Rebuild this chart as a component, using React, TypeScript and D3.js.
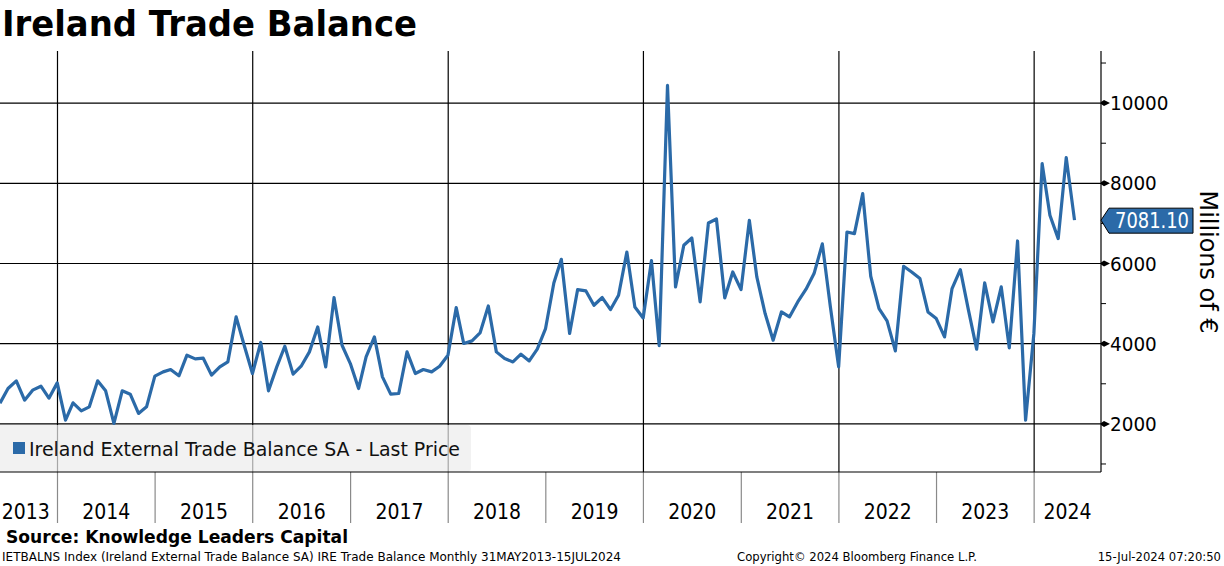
import * as d3 from 'd3'

// monthly values, millions of EUR (month-end points)
const v2013 = [2517, 2883, 3073, 2592, 2841, 2940, 2641, 3023] // May-Dec
const v2014 = [2093, 2525, 2326, 2425, 3073, 2824, 2011, 2824, 2741, 2260, 2425, 3190]
const v2015 = [3297, 3356, 3198, 3713, 3621, 3638, 3215, 3422, 3546, 4668, 3962, 3256]
const v2016 = [4030, 2824, 3422, 3937, 3240, 3439, 3796, 4418, 3422, 5150, 3962, 3505]
const v2017 = [2883, 3671, 4169, 3173, 2741, 2758, 3796, 3256, 3356, 3297, 3439, 3713]
const v2018 = [4900, 4005, 4070, 4269, 4942, 3796, 3630, 3546, 3738, 3571, 3863, 4378]
const v2019 = [5515, 6105, 4254, 5350, 5316, 4959, 5151, 4851, 5208, 6287, 4917, 4643]
const v2020 = [6070, 3950, 10441, 5416, 6454, 6636, 5042, 7010, 7110, 5142, 5789, 5350]
const v2021 = [7077, 5665, 4752, 4087, 4792, 4668, 5042, 5358, 5749, 6490, 4920, 3422]
const v2022 = [6786, 6746, 7743, 5682, 4876, 4568, 3820, 5931, 5789, 5624, 4792, 4627]
const v2023 = [4169, 5375, 5848, 4851, 3863, 5515, 4543, 5416, 3896, 6562, 2093, 4250]
const v2024 = [8490, 7202, 6621, 8640, 7081.1] // Jan-May

const series = [
  { year: 2013, start: 4, values: v2013 },
  { year: 2014, start: 0, values: v2014 },
  { year: 2015, start: 0, values: v2015 },
  { year: 2016, start: 0, values: v2016 },
  { year: 2017, start: 0, values: v2017 },
  { year: 2018, start: 0, values: v2018 },
  { year: 2019, start: 0, values: v2019 },
  { year: 2020, start: 0, values: v2020 },
  { year: 2021, start: 0, values: v2021 },
  { year: 2022, start: 0, values: v2022 },
  { year: 2023, start: 0, values: v2023 },
  { year: 2024, start: 0, values: v2024 },
]

const yearLabels = ['2013', '2014', '2015', '2016', '2017', '2018', '2019', '2020', '2021', '2022', '2023', '2024']
const yTicks = [2000, 4000, 6000, 8000, 10000]
const yMinor = [1000, 3000, 5000, 7000, 9000, 11000]
const lastPrice = '7081.10'

const W = 1224
const H = 566
const plotLeft = 0
const plotRight = 1101
const plotTop = 51
const plotBottom = 472
const axisBandBottom = 523

const blue = '#2b6aa8'
const font = '"DejaVu Sans", Verdana, sans-serif'

type Pt = { date: Date; value: number }

export default function App() {
  const data: Pt[] = series.flatMap((s) =>
    s.values.map((v, i) => ({ date: new Date(Date.UTC(s.year, s.start + i + 1, 0)), value: v })),
  )

  const x = d3
    .scaleUtc()
    .domain([new Date(Date.UTC(2013, 4, 31)), new Date(Date.UTC(2024, 8, 7))])
    .range([plotLeft, plotRight])

  const y = d3.scaleLinear().domain([800, 11300]).range([plotBottom, plotTop])

  const line = d3
    .line<Pt>()
    .x((d) => x(d.date))
    .y((d) => y(d.value))

  const yearStarts = yearLabels.map((yr) => x(new Date(Date.UTC(+yr, 0, 1))))
  const yearEnds = yearLabels.map((yr) => x(new Date(Date.UTC(+yr + 1, 0, 1))))

  const last = data[data.length - 1]
  const ly = y(last.value)

  return (
    <svg
      width={W}
      height={H}
      style={{ position: 'absolute', left: 0, top: 0, background: '#fff' }}
      fontFamily={font}
    >
      {/* title */}
      <text x={2} y={36} fontSize={35} fontWeight='bold' textLength={415} lengthAdjust='spacingAndGlyphs'>
        Ireland Trade Balance
      </text>

      {/* horizontal grid */}
      {yTicks.map((t) => (
        <line key={t} x1={plotLeft} x2={plotRight} y1={y(t)} y2={y(t)} stroke='#000' strokeWidth={1.2} />
      ))}

      {/* vertical grid, every 2 years */}
      {yearLabels.map((yr, i) =>
        +yr % 2 === 0 && yearStarts[i] > plotLeft ? (
          <line key={yr} x1={yearStarts[i]} x2={yearStarts[i]} y1={plotTop} y2={plotBottom} stroke='#000' strokeWidth={1.2} />
        ) : null,
      )}

      {/* axis band year separators */}
      {yearLabels.map((yr, i) =>
        yearStarts[i] > plotLeft ? (
          <line key={yr} x1={yearStarts[i]} x2={yearStarts[i]} y1={plotBottom} y2={axisBandBottom} stroke='#8a8a8a' strokeWidth={1.2} />
        ) : null,
      )}

      {/* year labels */}
      {yearLabels.map((yr, i) => {
        const a = Math.max(plotLeft, yearStarts[i])
        const b = Math.min(plotRight, yearEnds[i])
        return (
          <text key={yr} x={(a + b) / 2 - (i === 0 ? 3 : 0)} y={519} fontSize={21} textAnchor='middle' textLength={48} lengthAdjust='spacingAndGlyphs'>
            {yr}
          </text>
        )
      })}

      {/* series line */}
      <path d={line(data) ?? ''} fill='none' stroke={blue} strokeWidth={3.2} strokeLinejoin='round' />

      {/* legend */}
      <rect x={-4} y={425} width={475} height={47} rx={4} fill='#ececec' fillOpacity={0.7} />
      <rect x={13} y={442} width={12} height={12} fill={blue} />
      <text x={29} y={456} fontSize={20} textLength={431} lengthAdjust='spacingAndGlyphs' fill='#111'>
        Ireland External Trade Balance SA - Last Price
      </text>

      {/* bottom line */}
      <line x1={plotLeft} x2={plotRight} y1={plotBottom} y2={plotBottom} stroke='#000' strokeWidth={1.2} />

      {/* right axis */}
      <line x1={plotRight} x2={plotRight} y1={plotTop} y2={plotBottom} stroke='#000' strokeWidth={1.2} />
      {yMinor.map((t) => (
        <line key={t} x1={plotRight} x2={plotRight + 5} y1={y(t)} y2={y(t)} stroke='#000' strokeWidth={1} />
      ))}
      {yTicks.map((t) => (
        <g key={t} transform={`translate(${plotRight},${y(t)})`}>
          <path d='M0,-1 L3,-3 L9,0 L3,3 L0,1 Z' fill='#000' />
          <text x={9} y={7} fontSize={20} textLength={String(t).length * 11.7} lengthAdjust='spacingAndGlyphs'>
            {t}
          </text>
        </g>
      ))}

      {/* last price tag */}
      <path
        d={`M${plotRight},${ly} L${plotRight + 8},${ly - 12} L1193,${ly - 12} L1193,${ly + 13} L${plotRight + 8},${ly + 13} Z`}
        fill={blue}
        stroke='#000'
        strokeWidth={1}
      />
      <text x={1115} y={ly + 8} fontSize={21} fill='#fff' textLength={74} lengthAdjust='spacingAndGlyphs'>
        {lastPrice}
      </text>

      {/* axis title */}
      <text
        transform={`translate(1200,${262}) rotate(90)`}
        fontSize={24}
        textAnchor='middle'
        textLength={143}
        lengthAdjust='spacingAndGlyphs'
      >
        Millions of €
      </text>

      {/* footer */}
      <text x={6} y={543} fontSize={18} fontWeight='bold' textLength={342} lengthAdjust='spacingAndGlyphs'>
        Source: Knowledge Leaders Capital
      </text>
      <text x={2} y={561} fontSize={12.5} textLength={619} lengthAdjust='spacingAndGlyphs'>
        IETBALNS Index (Ireland External Trade Balance SA) IRE Trade Balance  Monthly 31MAY2013-15JUL2024
      </text>
      <text x={737} y={561} fontSize={12.5} textLength={240} lengthAdjust='spacingAndGlyphs'>
        Copyright© 2024 Bloomberg Finance L.P.
      </text>
      <text transform='translate(1221,561) scale(0.93,1)' fontSize={12.5} textAnchor='end'>
        15-Jul-2024 07:20:50
      </text>
    </svg>
  )
}
